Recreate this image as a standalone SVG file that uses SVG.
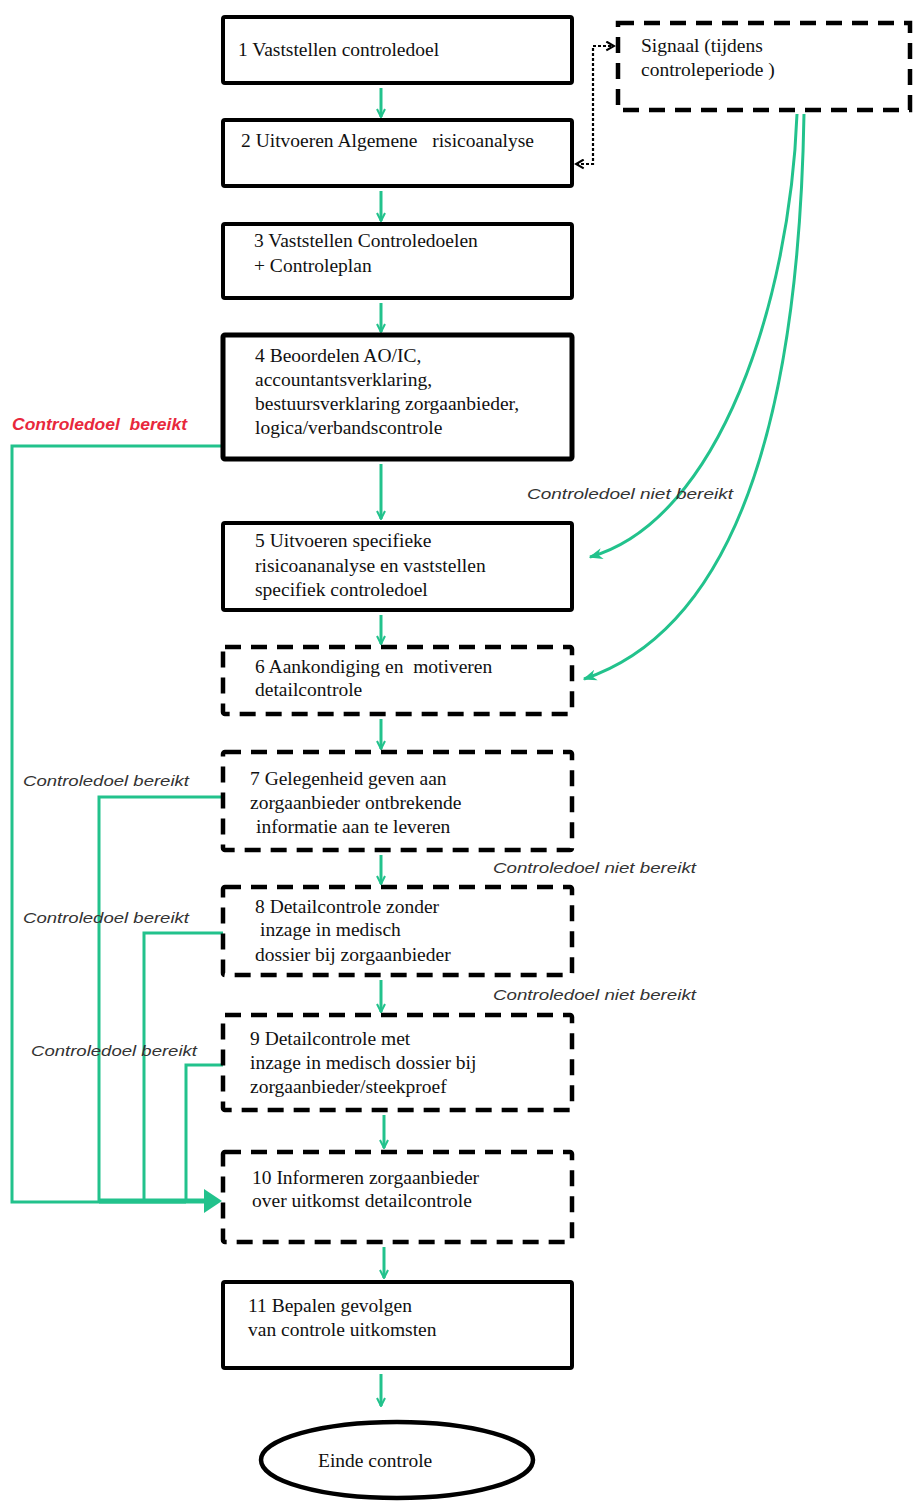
<svg xmlns="http://www.w3.org/2000/svg" width="913" height="1502" viewBox="0 0 913 1502">
<defs>
<style>
.box{fill:#fff;stroke:#000;stroke-width:4;}
.dash{fill:#fff;stroke:#000;stroke-width:4.5;stroke-dasharray:16 10;}
.t{font-family:"Liberation Serif",serif;font-size:19.5px;fill:#111;white-space:pre;}
.lbl{font-family:"Liberation Sans",sans-serif;font-style:italic;font-size:15.5px;fill:#333;}
.red{font-family:"Liberation Sans",sans-serif;font-style:italic;font-weight:bold;font-size:16px;fill:#e8283c;white-space:pre;}
.g{fill:none;stroke:#22c28c;stroke-width:3;}
</style>
<marker id="ah" viewBox="0 0 10 10" refX="9" refY="5" markerWidth="10" markerHeight="10" markerUnits="userSpaceOnUse" orient="auto">
<path d="M1,1 L9,5 L1,9" fill="none" stroke="#22c28c" stroke-width="2"/>
</marker>
<marker id="ahs" viewBox="0 0 10 10" refX="9" refY="5" markerWidth="14" markerHeight="14" markerUnits="userSpaceOnUse" orient="auto">
<path d="M0,1 L10,5 L0,9 L3,5 Z" fill="#22c28c"/>
</marker>
<marker id="ahb" viewBox="0 0 10 10" refX="8" refY="5" markerWidth="11" markerHeight="11" markerUnits="userSpaceOnUse" orient="auto-start-reverse">
<path d="M1,1 L8,5 L1,9" fill="none" stroke="#000" stroke-width="2"/>
</marker>
</defs>
<rect width="913" height="1502" fill="#fff"/>

<g id="connectors">
<line class="g" x1="381" y1="88" x2="381" y2="117" marker-end="url(#ah)"/>
<line class="g" x1="381" y1="191" x2="381" y2="221" marker-end="url(#ah)"/>
<line class="g" x1="381" y1="303" x2="381" y2="332" marker-end="url(#ah)"/>
<line class="g" x1="381" y1="464" x2="381" y2="519" marker-end="url(#ah)"/>
<line class="g" x1="381" y1="615" x2="381" y2="644" marker-end="url(#ah)"/>
<line class="g" x1="381" y1="719" x2="381" y2="749" marker-end="url(#ah)"/>
<line class="g" x1="381" y1="855" x2="381" y2="884" marker-end="url(#ah)"/>
<line class="g" x1="381" y1="980" x2="381" y2="1012" marker-end="url(#ah)"/>
<line class="g" x1="384" y1="1115" x2="384" y2="1148" marker-end="url(#ah)"/>
<line class="g" x1="384" y1="1247" x2="384" y2="1278" marker-end="url(#ah)"/>
<line class="g" x1="381" y1="1374" x2="381" y2="1406" marker-end="url(#ah)"/>

<path d="M576,164 L593,164 L593,46 L614,46" fill="none" stroke="#000" stroke-width="2.2" stroke-dasharray="3 2" marker-start="url(#ahb)" marker-end="url(#ahb)"/>

<path class="g" d="M797,114 C790,300 720,520 590,557" marker-end="url(#ahs)"/>
<path class="g" d="M804,114 C800,350 760,620 584,679" marker-end="url(#ahs)"/>

<path class="g" d="M221,446 L12,446 L12,1202 L186,1202"/>
<path class="g" d="M223,797 L99,797 L99,1202"/>
<path class="g" d="M223,933 L144,933 L144,1200"/>
<path class="g" d="M223,1065 L186,1065 L186,1200"/>
<line x1="99" y1="1201" x2="208" y2="1201" stroke="#22c28c" stroke-width="5"/>
<path d="M204,1189 L222,1201 L204,1213 Z" fill="#22c28c"/>
</g>

<g id="n1"><rect class="box" x="223" y="17" width="349" height="66" rx="2"/><text class="t" x="238" y="56">1 Vaststellen controledoel</text></g>
<g id="n2"><rect class="box" x="223" y="120" width="349" height="66" rx="2"/><text class="t" x="241" y="147" xml:space="preserve">2 Uitvoeren Algemene   risicoanalyse</text></g>
<g id="n3"><rect class="box" x="223" y="224" width="349" height="74" rx="2"/><text class="t" x="254" y="247">3 Vaststellen Controledoelen</text><text class="t" x="254" y="272">+ Controleplan</text></g>
<g id="n4"><rect class="box" x="223" y="335" width="349" height="124" rx="2" style="stroke-width:5"/><text class="t" x="255" y="362">4 Beoordelen AO/IC,</text><text class="t" x="255" y="386">accountantsverklaring,</text><text class="t" x="255" y="410">bestuursverklaring zorgaanbieder,</text><text class="t" x="255" y="434">logica/verbandscontrole</text></g>
<g id="n5"><rect class="box" x="223" y="523" width="349" height="87" rx="2"/><text class="t" x="255" y="547">5 Uitvoeren specifieke</text><text class="t" x="255" y="572">risicoananalyse en vaststellen</text><text class="t" x="255" y="596">specifiek controledoel</text></g>
<g id="n6"><rect class="dash" x="223" y="647" width="349" height="67" rx="2"/><text class="t" x="255" y="673" xml:space="preserve">6 Aankondiging en  motiveren</text><text class="t" x="255" y="696">detailcontrole</text></g>
<g id="n7"><rect class="dash" x="223" y="752" width="349" height="98" rx="2"/><text class="t" x="250" y="785">7 Gelegenheid geven aan</text><text class="t" x="250" y="809">zorgaanbieder ontbrekende</text><text class="t" x="256" y="833">informatie aan te leveren</text></g>
<g id="n8"><rect class="dash" x="223" y="887" width="349" height="88" rx="2"/><text class="t" x="255" y="913">8 Detailcontrole zonder</text><text class="t" x="260" y="936">inzage in medisch</text><text class="t" x="255" y="961">dossier bij zorgaanbieder</text></g>
<g id="n9"><rect class="dash" x="223" y="1015" width="349" height="95" rx="2"/><text class="t" x="250" y="1045">9 Detailcontrole met</text><text class="t" x="250" y="1069">inzage in medisch dossier bij</text><text class="t" x="250" y="1093">zorgaanbieder/steekproef</text></g>
<g id="n10"><rect class="dash" x="223" y="1152" width="349" height="90" rx="2"/><text class="t" x="252" y="1184">10 Informeren zorgaanbieder</text><text class="t" x="252" y="1207">over uitkomst detailcontrole</text></g>
<g id="n11"><rect class="box" x="223" y="1282" width="349" height="86" rx="2"/><text class="t" x="248" y="1312">11 Bepalen gevolgen</text><text class="t" x="248" y="1336">van controle uitkomsten</text></g>
<g id="end"><ellipse cx="397" cy="1460" rx="136" ry="38" fill="#fff" stroke="#000" stroke-width="4.5"/><text class="t" x="318" y="1467">Einde controle</text></g>
<g id="signal"><rect class="dash" x="618" y="23" width="292" height="87"/><text class="t" x="641" y="52">Signaal (tijdens</text><text class="t" x="641" y="76">controleperiode )</text></g>

<g id="labels">
<text class="red" x="12" y="430" textLength="175" lengthAdjust="spacingAndGlyphs" xml:space="preserve">Controledoel  bereikt</text>
<text class="lbl" x="527" y="499" textLength="206" lengthAdjust="spacingAndGlyphs">Controledoel niet bereikt</text>
<text class="lbl" x="23" y="786" textLength="166" lengthAdjust="spacingAndGlyphs">Controledoel bereikt</text>
<text class="lbl" x="23" y="923" textLength="166" lengthAdjust="spacingAndGlyphs">Controledoel bereikt</text>
<text class="lbl" x="31" y="1056" textLength="166" lengthAdjust="spacingAndGlyphs">Controledoel bereikt</text>
<text class="lbl" x="493" y="873" textLength="203" lengthAdjust="spacingAndGlyphs">Controledoel niet bereikt</text>
<text class="lbl" x="493" y="1000" textLength="203" lengthAdjust="spacingAndGlyphs">Controledoel niet bereikt</text>
</g>
</svg>
